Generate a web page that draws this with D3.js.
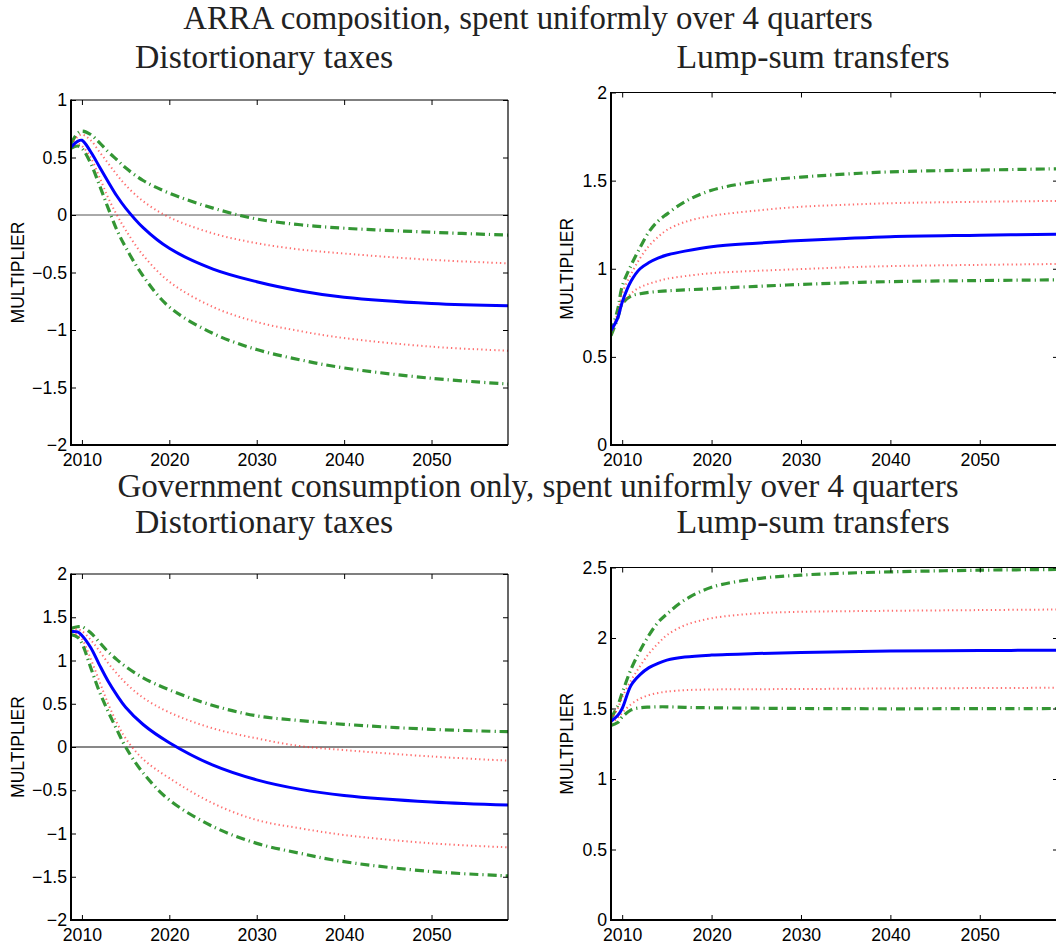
<!DOCTYPE html>
<html>
<head>
<meta charset="utf-8">
<script src="https://cdn.jsdelivr.net/npm/d3@7"></script>
<style>
  html, body { margin: 0; padding: 0; background: #fff; }
  svg { display: block; }
</style>
</head>
<body>
<svg id="chart" width="1056" height="947"></svg>
<script>
// Quarter-sampled horizon (years) at which the multiplier paths are recorded
const years = [2008.75, 2009.5, 2010, 2011, 2012, 2013, 2014, 2015, 2017, 2020, 2025, 2030, 2035, 2040, 2050, 2058.75];

// ARRA composition, distortionary taxes
const arraTaxMedian = [0.59, 0.64, 0.65, 0.55, 0.42, 0.29, 0.165, 0.06, -0.11, -0.29, -0.47, -0.58, -0.66, -0.715, -0.77, -0.79];
const arraTaxHi68   = [0.61, 0.68, 0.70, 0.65, 0.55, 0.45, 0.35, 0.26, 0.12, -0.02, -0.16, -0.245, -0.30, -0.335, -0.39, -0.42];
const arraTaxLo68   = [0.59, 0.62, 0.60, 0.50, 0.33, 0.15, 0.0, -0.13, -0.35, -0.58, -0.80, -0.93, -1.01, -1.07, -1.145, -1.18];
const arraTaxHi90   = [0.62, 0.71, 0.73, 0.70, 0.63, 0.55, 0.48, 0.41, 0.30, 0.19, 0.06, -0.035, -0.085, -0.115, -0.15, -0.175];
const arraTaxLo90   = [0.58, 0.60, 0.58, 0.45, 0.26, 0.06, -0.13, -0.28, -0.53, -0.80, -1.03, -1.17, -1.26, -1.33, -1.42, -1.47];

// ARRA composition, lump-sum transfers
const arraLumpMedian = [0.65, 0.72, 0.81, 0.93, 1.0, 1.035, 1.06, 1.078, 1.10, 1.125, 1.145, 1.16, 1.172, 1.182, 1.19, 1.196];
const arraLumpHi68   = [0.63, 0.75, 0.86, 0.97, 1.06, 1.13, 1.18, 1.22, 1.265, 1.30, 1.33, 1.352, 1.363, 1.372, 1.38, 1.385];
const arraLumpLo68   = [0.63, 0.73, 0.80, 0.86, 0.895, 0.915, 0.93, 0.943, 0.958, 0.975, 0.988, 0.998, 1.008, 1.015, 1.022, 1.027];
const arraLumpHi90   = [0.64, 0.77, 0.90, 1.02, 1.12, 1.21, 1.27, 1.31, 1.38, 1.445, 1.495, 1.52, 1.537, 1.55, 1.56, 1.567];
const arraLumpLo90   = [0.62, 0.72, 0.80, 0.845, 0.858, 0.866, 0.871, 0.875, 0.88, 0.887, 0.90, 0.911, 0.92, 0.927, 0.933, 0.937];

// Government consumption only, distortionary taxes
const govTaxMedian = [1.335, 1.33, 1.29, 1.15, 0.95, 0.76, 0.60, 0.46, 0.26, 0.05, -0.21, -0.38, -0.49, -0.56, -0.635, -0.67];
const govTaxHi68   = [1.35, 1.36, 1.34, 1.24, 1.11, 0.97, 0.85, 0.74, 0.57, 0.40, 0.215, 0.10, 0.01, -0.035, -0.11, -0.158];
const govTaxLo68   = [1.32, 1.30, 1.25, 1.02, 0.76, 0.50, 0.28, 0.10, -0.14, -0.36, -0.651, -0.844, -0.94, -1.017, -1.114, -1.16];
const govTaxHi90   = [1.37, 1.39, 1.39, 1.32, 1.21, 1.10, 1.01, 0.93, 0.80, 0.66, 0.48, 0.36, 0.305, 0.262, 0.204, 0.177];
const govTaxLo90   = [1.30, 1.27, 1.20, 0.92, 0.64, 0.41, 0.20, 0.0, -0.30, -0.613, -0.92, -1.114, -1.23, -1.326, -1.44, -1.49];

// Government consumption only, lump-sum transfers
const govLumpMedian = [1.41, 1.45, 1.50, 1.665, 1.74, 1.79, 1.82, 1.843, 1.865, 1.879, 1.89, 1.897, 1.902, 1.907, 1.911, 1.914];
const govLumpHi68   = [1.42, 1.50, 1.58, 1.70, 1.80, 1.89, 1.96, 2.02, 2.09, 2.14, 2.174, 2.186, 2.19, 2.193, 2.198, 2.202];
const govLumpLo68   = [1.40, 1.43, 1.47, 1.53, 1.57, 1.595, 1.61, 1.62, 1.63, 1.635, 1.637, 1.638, 1.64, 1.642, 1.645, 1.647];
const govLumpHi90   = [1.43, 1.52, 1.61, 1.78, 1.91, 2.02, 2.11, 2.17, 2.27, 2.36, 2.42, 2.446, 2.46, 2.469, 2.481, 2.486];
const govLumpLo90   = [1.38, 1.40, 1.44, 1.49, 1.505, 1.51, 1.512, 1.512, 1.508, 1.505, 1.502, 1.50, 1.499, 1.498, 1.499, 1.50];

// Axis ticks
const xTicks = [2010, 2020, 2030, 2040, 2050];
const yTicksArraTax  = [-2, -1.5, -1, -0.5, 0, 0.5, 1];
const yTicksArraLump = [0, 0.5, 1, 1.5, 2];
const yTicksGovTax   = [-2, -1.5, -1, -0.5, 0, 0.5, 1, 1.5, 2];
const yTicksGovLump  = [0, 0.5, 1, 1.5, 2, 2.5];

// Headings
const rowTitles = [
  "ARRA composition, spent uniformly over 4 quarters",
  "Government consumption only, spent uniformly over 4 quarters"
];
const colTitles = ["Distortionary taxes", "Lump-sum transfers"];
const yAxisLabel = "MULTIPLIER";

// Panel layout
const xDomain = [2008.75, 2058.75];
const panels = [
  { left: 71,  right: 508,  top: 100,   bottom: 445, labelOffset: 52.7, yDomain: [-2, 1],  yTicks: yTicksArraTax,
    median: arraTaxMedian, hi68: arraTaxHi68, lo68: arraTaxLo68, hi90: arraTaxHi90, lo90: arraTaxLo90, zero: "#555" },
  { left: 611, right: 1058, top: 92.5,  bottom: 445, labelOffset: 44, yDomain: [0, 2],    yTicks: yTicksArraLump,
    median: arraLumpMedian, hi68: arraLumpHi68, lo68: arraLumpLo68, hi90: arraLumpHi90, lo90: arraLumpLo90, zero: null },
  { left: 71,  right: 508,  top: 574,   bottom: 920, labelOffset: 52.7, yDomain: [-2, 2],  yTicks: yTicksGovTax,
    median: govTaxMedian, hi68: govTaxHi68, lo68: govTaxLo68, hi90: govTaxHi90, lo90: govTaxLo90, zero: "#111" },
  { left: 611, right: 1058, top: 567.5, bottom: 920, labelOffset: 44, yDomain: [0, 2.5],  yTicks: yTicksGovLump,
    median: govLumpMedian, hi68: govLumpHi68, lo68: govLumpLo68, hi90: govLumpHi90, lo90: govLumpLo90, zero: null }
];

const svg = d3.select("#chart");
const serif = "'Liberation Serif', 'Times New Roman', serif";
const sans = "'Liberation Sans', Arial, sans-serif";
const fmt = d3.format("~g");

// Row and column headings
const headings = [
  { text: rowTitles[0], x: 528, y: 29, size: 32.8 },
  { text: colTitles[0], x: 264, y: 68, size: 33.8 },
  { text: colTitles[1], x: 813, y: 68, size: 33.8 },
  { text: rowTitles[1], x: 538, y: 497, size: 33 },
  { text: colTitles[0], x: 264, y: 533, size: 33.8 },
  { text: colTitles[1], x: 813, y: 533, size: 33.8 }
];
svg.selectAll("text.heading").data(headings).join("text")
  .attr("class", "heading")
  .attr("x", d => d.x).attr("y", d => d.y)
  .attr("text-anchor", "middle")
  .attr("font-family", serif).attr("font-size", d => d.size)
  .attr("fill", "#222")
  .text(d => d.text);

panels.forEach((p, i) => {
  const x = d3.scaleLinear().domain(xDomain).range([p.left, p.right]);
  const y = d3.scaleLinear().domain(p.yDomain).range([p.bottom, p.top]);
  const g = svg.append("g");

  const clipId = "clip" + i;
  g.append("clipPath").attr("id", clipId).append("rect")
    .attr("x", p.left).attr("y", p.top)
    .attr("width", p.right - p.left).attr("height", p.bottom - p.top);

  const plot = g.append("g").attr("clip-path", `url(#${clipId})`);

  if (p.zero) {
    plot.append("line")
      .attr("x1", p.left).attr("x2", p.right)
      .attr("y1", y(0)).attr("y2", y(0))
      .attr("stroke", p.zero).attr("stroke-width", 1);
  }

  const line = d3.line()
    .x((d, k) => x(years[k]))
    .y(d => y(d))
    .curve(d3.curveCatmullRom.alpha(0.5));

  const styles = [
    { key: "lo90", stroke: "#349634", width: 3.2, dash: "9,4,1.2,4", opacity: 1 },
    { key: "hi90", stroke: "#349634", width: 3.2, dash: "9,4,1.2,4", opacity: 1 },
    { key: "lo68", stroke: "#ff3030", width: 2, dash: "1.3,3", opacity: 0.7 },
    { key: "hi68", stroke: "#ff3030", width: 2, dash: "1.3,3", opacity: 0.7 },
    { key: "median", stroke: "#0000ff", width: 3, dash: null, opacity: 1 }
  ];
  styles.forEach(s => {
    plot.append("path")
      .datum(p[s.key])
      .attr("d", line)
      .attr("fill", "none")
      .attr("stroke", s.stroke)
      .attr("stroke-width", s.width)
      .attr("stroke-opacity", s.opacity)
      .attr("stroke-dasharray", s.dash)
      .attr("stroke-linejoin", "round");
  });

  // Axes with inward ticks on all four sides
  const styleAxis = sel => {
    sel.select(".domain").remove();
    sel.selectAll(".tick line").attr("stroke", "#000").attr("stroke-width", 1);
    sel.selectAll(".tick text").attr("font-family", sans).attr("font-size", 17.7).attr("fill", "#000");
  };
  g.append("g").attr("transform", `translate(0,${p.bottom})`)
    .call(d3.axisBottom(x).tickValues(xTicks).tickSize(-5).tickPadding(8).tickFormat(d3.format("d")))
    .call(styleAxis);
  g.append("g").attr("transform", `translate(0,${p.top})`)
    .call(d3.axisTop(x).tickValues(xTicks).tickSize(-5).tickFormat(""))
    .call(styleAxis);
  g.append("g").attr("transform", `translate(${p.left},0)`)
    .call(d3.axisLeft(y).tickValues(p.yTicks).tickSize(-5).tickPadding(4).tickFormat(fmt))
    .call(styleAxis);
  g.append("g").attr("transform", `translate(${p.right},0)`)
    .call(d3.axisRight(y).tickValues(p.yTicks).tickSize(-5).tickFormat(""))
    .call(styleAxis);

  // Frame
  g.append("line").attr("x1", p.left).attr("x2", p.right).attr("y1", p.top).attr("y2", p.top)
    .attr("stroke", "#000").attr("stroke-width", 1.2);
  g.append("line").attr("x1", p.right).attr("x2", p.right).attr("y1", p.top).attr("y2", p.bottom)
    .attr("stroke", "#000").attr("stroke-width", 1.2);
  g.append("line").attr("x1", p.left).attr("x2", p.right).attr("y1", p.bottom).attr("y2", p.bottom)
    .attr("stroke", "#000").attr("stroke-width", 2);
  g.append("line").attr("x1", p.left).attr("x2", p.left).attr("y1", p.top - 0.6).attr("y2", p.bottom + 1)
    .attr("stroke", "#000").attr("stroke-width", 2);

  // Y axis label
  const cx = p.left - p.labelOffset;
  const cy = (p.top + p.bottom) / 2;
  g.append("text")
    .attr("transform", `translate(${cx},${cy}) rotate(-90)`)
    .attr("text-anchor", "middle")
    .attr("dy", "0.35em")
    .attr("font-family", sans).attr("font-size", 17.5)
    .attr("fill", "#000")
    .text(yAxisLabel);
});
</script>
</body>
</html>
